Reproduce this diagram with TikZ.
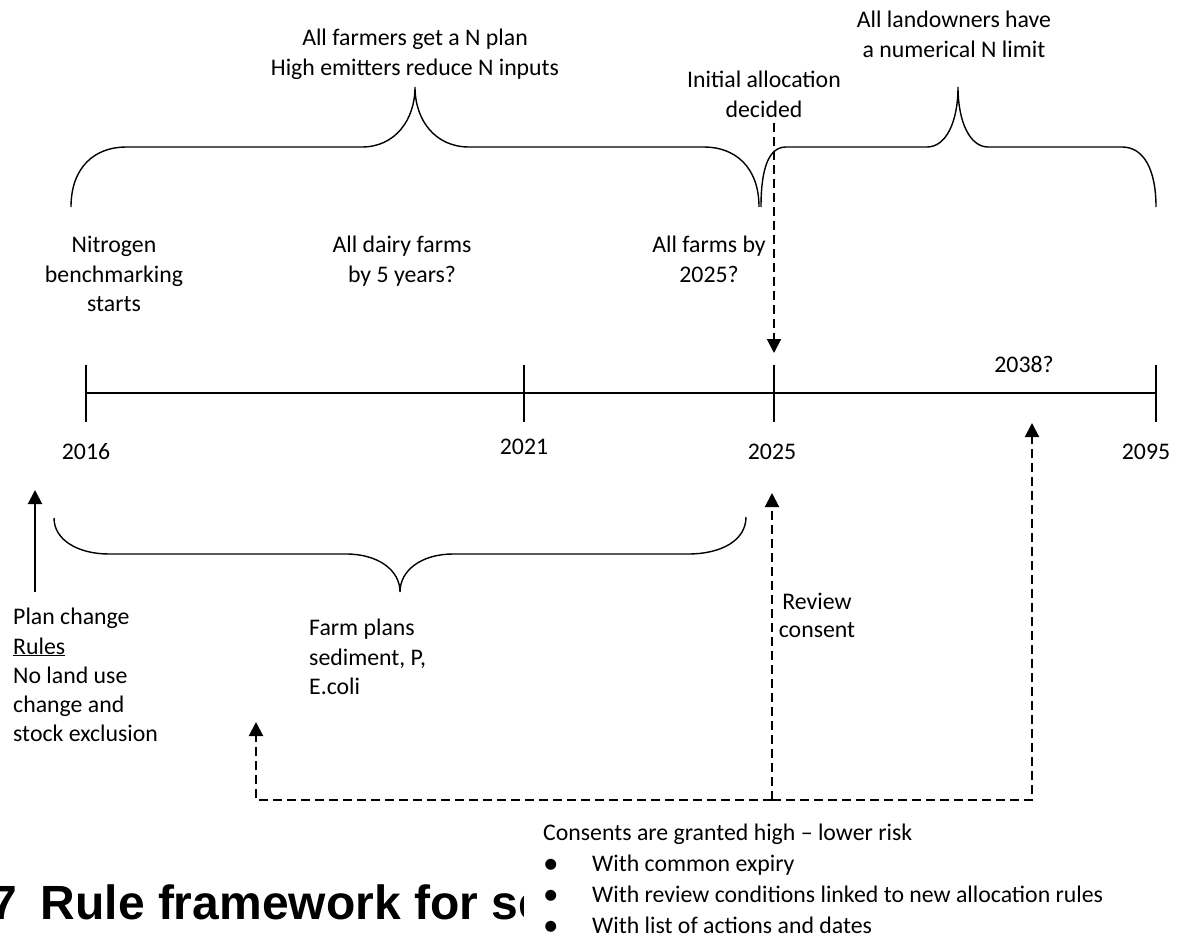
\documentclass[tikz,border=0pt]{standalone}
\usepackage{fontspec}
\setmainfont{Carlito}
\newfontfamily\titlefont{Liberation Sans}
\usetikzlibrary{arrows.meta}
\newcommand\firstln{\rule{0pt}{20pt}}
\newcommand\bulletmark{\makebox[49pt][l]{\raisebox{-1.5pt}{\fontsize{31}{31}\selectfont\textbullet}}}
\begin{document}
\begin{tikzpicture}[x=1pt,y=-1pt,
  txt/.style={inner sep=0pt, font=\fontsize{23.8}{29.2}\selectfont, align=center},
  ltxt/.style={txt, align=left},
  axisline/.style={line width=1.5pt},
  bracecurve/.style={line width=1.4pt},
  arr/.style={line width=2pt, -{Triangle[length=14pt,width=14pt]}},
  darr/.style={arr, dash pattern=on 9pt off 5pt},
  titletxt/.style={inner sep=0pt, font=\titlefont\bfseries\fontsize{48}{50}\selectfont}]
\path[fill=white] (0,0) rectangle (1178,936);
\useasboundingbox (0,0) rectangle (1178,936);

% ---------- top texts ----------
\node[txt, anchor=north] (allN) at (415,25.7) {\firstln All farmers get a N plan\\High emitters reduce N inputs};
\node[txt, anchor=north] (initial) at (764,67.7) {\firstln Initial allocation\\decided};
\node[txt, anchor=north] (landown) at (954,7.7) {\firstln All landowners have\\a numerical N limit};
\node[txt, anchor=north] (nitro) at (114,232.7) {\firstln Nitrogen\\benchmarking\\starts};
\node[txt, anchor=north] (dairy) at (402,232.7) {\firstln All dairy farms\\by 5 years?};
\node[txt, anchor=north] (allfarms) at (709,232.7) {\firstln All farms by\\2025?};

% ---------- braces ----------
\draw[bracecurve] (71,207) .. controls (71,167) and (95,147) .. (126,147) -- (362,147)
  .. controls (395,147) and (415,120) .. (415,87)
  .. controls (415,120) and (435,147) .. (469,147) -- (704,147)
  .. controls (735,147) and (759,167) .. (759,207);
\draw[bracecurve] (761,207) .. controls (761,170) and (768,147) .. (786,147) -- (927,147)
  .. controls (946,147) and (958,122) .. (958,87)
  .. controls (958,122) and (970,147) .. (988,147) -- (1122,147)
  .. controls (1144,147) and (1156,170) .. (1156,207);
\draw[bracecurve] (54,518) .. controls (54,540) and (78,554) .. (109,554) -- (346,554)
  .. controls (378,554) and (400,570) .. (400,592)
  .. controls (400,570) and (422,554) .. (453,554) -- (688,554)
  .. controls (722,554) and (746,540) .. (746,517);

% ---------- timeline ----------
\coordinate (y16) at (86,393);
\coordinate (y21) at (524,393);
\coordinate (y25) at (774,393);
\coordinate (y95) at (1156,393);
\draw[axisline] (y16) -- (y95);
\foreach \c in {y16,y21,y25,y95}
  \draw[axisline] ([yshift=28pt]\c) -- ([yshift=-29pt]\c);
\node[txt, anchor=base] (l16) at (86,459.7) {2016};
\node[txt, anchor=base] (l21) at (524,454.7) {2021};
\node[txt, anchor=base] (l25) at (772,459.7) {2025};
\node[txt, anchor=base] (l95) at (1146,459.7) {2095};
\node[txt, anchor=base] (l38) at (1024,372.7) {2038?};

% ---------- lower texts ----------
\node[ltxt, anchor=north west] (plan) at (13,604.7) {\firstln Plan change\\\underline{Rules}\\No land use\\change and\\stock exclusion};
\node[ltxt, anchor=north west] (farmpl) at (309,615.7) {\firstln Farm plans\\sediment, P,\\E.coli};
\node[txt, anchor=north, font=\fontsize{23.8}{28}\selectfont] (review) at (817,589.7) {\firstln Review\\consent};
\node[ltxt, anchor=north west, font=\fontsize{23.8}{31}\selectfont] (consents) at (543,820.7)
  {\firstln Consents are granted high – lower risk\\
   \bulletmark With common expiry\\
   \bulletmark With review conditions linked to new allocation rules\\
   \bulletmark With list of actions and dates};

% ---------- arrows ----------
\coordinate (pcTail) at (35,592);
\coordinate (pcTip) at (35,490);
\draw[arr] (pcTail) -- (pcTip);

\coordinate (iaTop) at (774,123);
\coordinate (iaTip) at (774,353);
\draw[darr] (iaTop) -- (iaTip);

\coordinate (hub) at (772,800);
\coordinate (lc) at (256,800);
\coordinate (rc) at (1032,800);
\coordinate (fpTip) at (256,722);
\coordinate (rvTip) at (772,493);
\coordinate (yrTip) at (1032,423);
\draw[darr] (hub) -- (lc) -- (fpTip);
\draw[darr] (hub) -- (rc) -- (yrTip);
\draw[darr] (hub) -- (rvTip);

% ---------- clipped title ----------
\begin{scope}
\clip (0,850) rectangle (523,936);
\node[titletxt, anchor=base east] (secnum) at (17,919) {7};
\node[titletxt, anchor=base west] (title) at (40.5,919) {Rule framework for sediment};
\end{scope}
\end{tikzpicture}
\end{document}
